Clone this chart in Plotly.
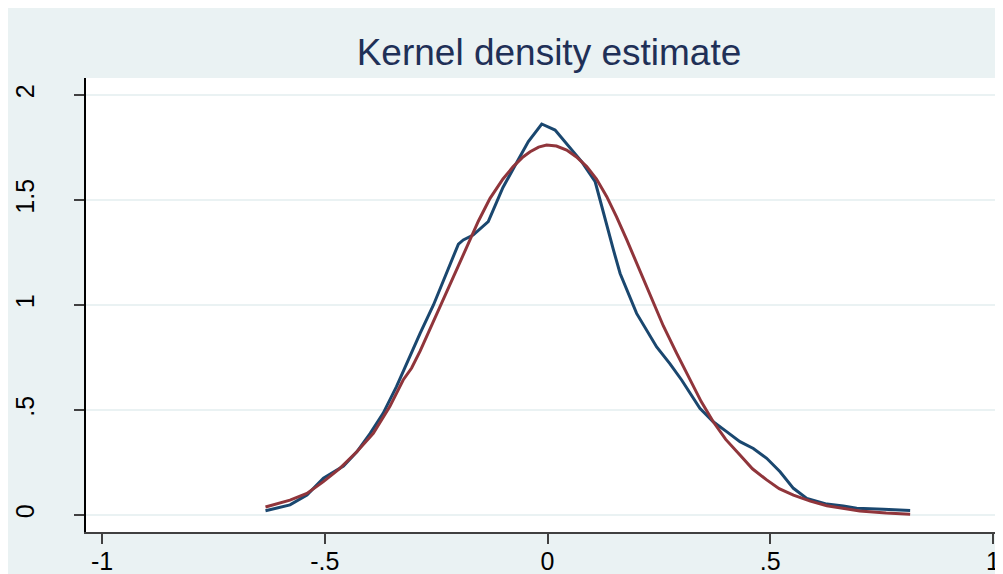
import plotly.graph_objects as go

# Kernel density (blue)
kd_x = [-0.633, -0.578, -0.540, -0.503, -0.458, -0.428, -0.398, -0.369, -0.339,
        -0.286, -0.256, -0.219, -0.200, -0.189, -0.167, -0.133, -0.100, -0.062,
        -0.043, -0.013, 0.017, 0.077, 0.107, 0.148, 0.163, 0.200, 0.245, 0.275,
        0.301, 0.342, 0.372, 0.402, 0.432, 0.462, 0.492, 0.522, 0.552, 0.582,
        0.627, 0.664, 0.694, 0.754, 0.814]
kd_y = [0.020, 0.048, 0.095, 0.175, 0.233, 0.301, 0.389, 0.484, 0.611,
        0.865, 1.000, 1.190, 1.290, 1.310, 1.333, 1.397, 1.560, 1.706,
        1.778, 1.862, 1.833, 1.682, 1.587, 1.262, 1.150, 0.960, 0.800, 0.720,
        0.643, 0.508, 0.444, 0.397, 0.349, 0.317, 0.270, 0.206, 0.127, 0.079,
        0.052, 0.043, 0.032, 0.027, 0.021]

# Normal density (red)
nd_x = [-0.633, -0.600, -0.578, -0.540, -0.503, -0.466, -0.428, -0.391, -0.354,
        -0.324, -0.305, -0.286, -0.265, -0.241, -0.210, -0.181, -0.155, -0.129,
        -0.100, -0.077, -0.055, -0.039, -0.020, -0.002, 0.020, 0.043, 0.065,
        0.088, 0.110, 0.133, 0.155, 0.178, 0.200, 0.220, 0.240, 0.260, 0.290,
        0.320, 0.345, 0.372, 0.400, 0.432, 0.460, 0.492, 0.520, 0.552, 0.590,
        0.627, 0.665, 0.701, 0.760, 0.814]
nd_y = [0.038, 0.058, 0.071, 0.103, 0.159, 0.222, 0.301, 0.389, 0.516,
        0.643, 0.700, 0.780, 0.880, 0.992, 1.140, 1.278, 1.400, 1.508,
        1.600, 1.659, 1.705, 1.730, 1.752, 1.762, 1.757, 1.738, 1.705,
        1.659, 1.600, 1.516, 1.420, 1.310, 1.200, 1.100, 1.000, 0.900, 0.770,
        0.643, 0.540, 0.444, 0.360, 0.286, 0.220, 0.167, 0.125, 0.095, 0.066,
        0.044, 0.030, 0.019, 0.009, 0.003]

x_ticks = [-1, -0.5, 0, 0.5, 1]
x_labels = ["-1", "-.5", "0", ".5", "1"]
y_ticks = [0, 0.5, 1, 1.5, 2]
y_labels = ["0", ".5", "1", "1.5", "2"]

BG = "#EAF2F3"
FONT = "Liberation Sans, Arial, sans-serif"

fig = go.Figure()
fig.add_trace(go.Scatter(x=kd_x, y=kd_y, mode="lines",
                         line=dict(color="#1A476F", width=3), showlegend=False))
fig.add_trace(go.Scatter(x=nd_x, y=nd_y, mode="lines",
                         line=dict(color="#90353B", width=3), showlegend=False))

fig.update_layout(
    width=995, height=566,
    margin=dict(l=78, r=0, t=70, b=42),
    paper_bgcolor=BG, plot_bgcolor="white",
    font=dict(family=FONT, color="black"),
    title=dict(text="Kernel density estimate", x=0.5437, xanchor="center",
               y=0.9223, yanchor="middle", yref="container",
               font=dict(size=37, color="#1F3057", family=FONT)),
    xaxis=dict(range=[-1.0359, 1.0224], tickvals=x_ticks, ticktext=x_labels,
               showgrid=False, zeroline=False, showline=True, automargin=False,
               linecolor="#404040", linewidth=1.6,
               ticks="outside", ticklen=10, tickwidth=1.5, tickcolor="#404040",
               tickfont=dict(size=25, color="black"), ticklabelstandoff=-4),
    yaxis=dict(range=[-0.081, 2.081], tickvals=y_ticks, ticktext=y_labels,
               showgrid=True, gridcolor=BG, gridwidth=2, zeroline=False,
               showline=True, automargin=False, linecolor="black", linewidth=1.6,
               ticks="outside", ticklen=10, tickwidth=1.5, tickcolor="#404040",
               tickangle=-90, tickfont=dict(size=25, color="black"),
               ticklabelstandoff=30),
)

fig.write_html("out.html")
